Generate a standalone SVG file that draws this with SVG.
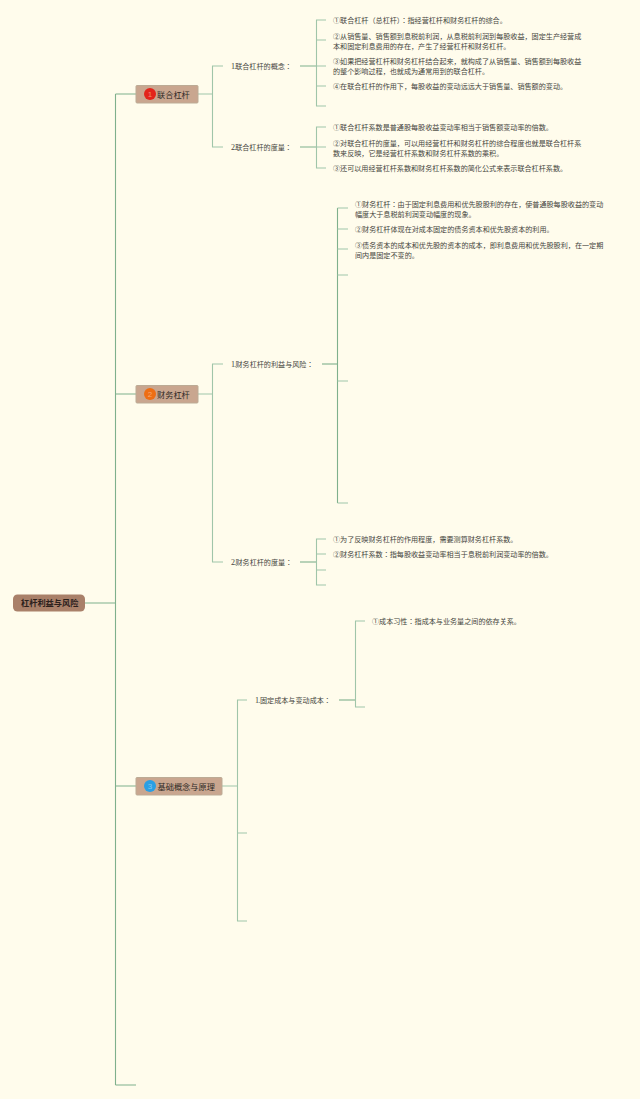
<svg xmlns="http://www.w3.org/2000/svg" width="640" height="1099" viewBox="0 0 640 1099">
<style>
text{font-family:"Noto Sans CJK JP","Noto Sans CJK SC","Liberation Sans",sans-serif}
.t{font-size:7.1px;fill:#45453d}
.n{font-size:8.2px;fill:#2f2a26}
.r{font-size:8.2px;font-weight:700;fill:#2b211c}
.d{font-size:8px;text-anchor:middle;font-family:"Liberation Sans",sans-serif}
.a{font-family:"Liberation Serif",serif;font-size:8px;letter-spacing:-.7px}
.c{fill:none;stroke:#a0c5a9;stroke-width:1.1}
.h{fill:none;stroke:#7fb08c;stroke-width:1.1}
.box{fill:#c9a68f;stroke:#bcab95;stroke-width:1}
</style>
<rect width="640" height="1099" fill="#fffcec"/>
<g id="connectors">
<path class="h" d="M85 603H115.5M115.5 94V1085M115.5 94H136M115.5 394H136M115.5 786H136M115.5 1085H136"/>
<path class="c" d="M198 94H212.5M223 66H212.5V147H223"/>
<path class="h" d="M300 66H316.5M300 147H316.5"/>
<path class="c" d="M326 20H316.5V106H326M316.5 40H326M316.5 66H326M316.5 86H326"/>
<path class="c" d="M326 127H316.5V168H326M316.5 147H326"/>
<path class="c" d="M198 394H212.5M223 364H212.5V562H223"/>
<path class="h" d="M322 364H337.5"/>
<path class="h" d="M337.5 208V503"/>
<path class="c" d="M348 208H337.5M348 229H337.5M348 249H337.5M348 275H337.5M348 381H337.5M348 503H337.5"/>
<path class="h" d="M300 562H316.5"/>
<path class="c" d="M326 539H316.5V585H326M316.5 554H326M316.5 570H326"/>
<path class="c" d="M222 786H237.5M247 700H237.5V921H247M237.5 833H247"/>
<path class="h" d="M339 700H355.5"/>
<path class="c" d="M365 621H355.5V707H365"/>
</g>
<g id="root"><rect x="13" y="594.5" width="72" height="17" rx="4.5" fill="#a98069"/><text class="r" x="21" y="606">杠杆利益与风险</text></g>
<g id="node1"><rect class="box" x="136" y="85.5" width="62" height="17.5" rx="1"/><circle cx="150" cy="94" r="6" fill="#e3241a"/><text class="d" x="150" y="97" fill="#f08a70">1</text><text class="n" x="157" y="97.5">联合杠杆</text></g>
<g id="node2"><rect class="box" x="136" y="385.5" width="62" height="17.5" rx="1"/><circle cx="150" cy="394" r="6" fill="#ee6e14"/><text class="d" x="150" y="397" fill="#f7a870">2</text><text class="n" x="157" y="398">财务杠杆</text></g>
<g id="node3"><rect class="box" x="136" y="777.5" width="86" height="17.5" rx="1"/><circle cx="150" cy="786" r="6" fill="#2a9fe4"/><text class="d" x="150" y="789" fill="#86c8f0">3</text><text class="n" x="157.5" y="789.5">基础概念与原理</text></g>
<g id="l1a"><text class="t" x="231" y="69"><tspan class="a">1.</tspan><tspan x="235.2">联合杠杆的概念：</tspan></text></g>
<g id="l1b"><text class="t" x="231" y="150"><tspan class="a">2.</tspan><tspan x="235.2">联合杠杆的度量：</tspan></text></g>
<g id="l2a"><text class="t" x="231" y="367"><tspan class="a">1.</tspan><tspan x="235.5">财务杠杆的利益与风险：</tspan></text></g>
<g id="l2b"><text class="t" x="231" y="565"><tspan class="a">2.</tspan><tspan x="235.5">财务杠杆的度量：</tspan></text></g>
<g id="l3a"><text class="t" x="255" y="703"><tspan class="a">1.</tspan><tspan x="260">固定成本与变动成本：</tspan></text></g>
<g id="t1"><text class="t" x="333" y="23">①联合杠杆（总杠杆）：指经营杠杆和财务杠杆的综合。</text></g>
<g id="t2"><text class="t" x="333" y="39">②从销售量、销售额到息税前利润，从息税前利润到每股收益，固定生产经营成</text><text class="t" x="333" y="49">本和固定利息费用的存在，产生了经营杠杆和财务杠杆。</text></g>
<g id="t3"><text class="t" x="333" y="64">③如果把经营杠杆和财务杠杆结合起来，就构成了从销售量、销售额到每股收益</text><text class="t" x="333" y="74">的整个影响过程，也就成为通常用到的联合杠杆。</text></g>
<g id="t4"><text class="t" x="333" y="89">④在联合杠杆的作用下，每股收益的变动远远大于销售量、销售额的变动。</text></g>
<g id="t5"><text class="t" x="333" y="130">①联合杠杆系数是普通股每股收益变动率相当于销售额变动率的倍数。</text></g>
<g id="t6"><text class="t" x="333" y="146">②对联合杠杆的度量，可以用经营杠杆和财务杠杆的综合程度也就是联合杠杆系</text><text class="t" x="333" y="156">数来反映，它是经营杠杆系数和财务杠杆系数的乘积。</text></g>
<g id="t7"><text class="t" x="333" y="171">③还可以用经营杠杆系数和财务杠杆系数的简化公式来表示联合杠杆系数。</text></g>
<g id="t8"><text class="t" x="355" y="207">①财务杠杆：由于固定利息费用和优先股股利的存在，使普通股每股收益的变动</text><text class="t" x="355" y="217">幅度大于息税前利润变动幅度的现象。</text></g>
<g id="t9"><text class="t" x="355" y="232">②财务杠杆体现在对成本固定的债务资本和优先股资本的利用。</text></g>
<g id="t10"><text class="t" x="355" y="248">③债务资本的成本和优先股的资本的成本，即利息费用和优先股股利，在一定期</text><text class="t" x="355" y="258">间内是固定不变的。</text></g>
<g id="t11"><text class="t" x="333" y="542">①为了反映财务杠杆的作用程度，需要测算财务杠杆系数。</text></g>
<g id="t12"><text class="t" x="333" y="557">②财务杠杆系数：指每股收益变动率相当于息税前利润变动率的倍数。</text></g>
<g id="t13"><text class="t" x="372" y="624">①成本习性：指成本与业务量之间的依存关系。</text></g>
</svg>
